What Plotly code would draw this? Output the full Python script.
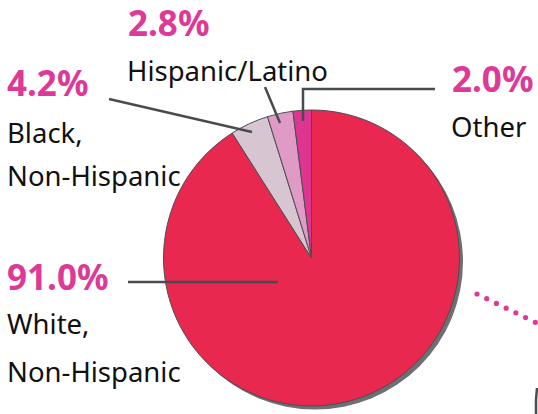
import plotly.graph_objects as go

W, H = 538, 414

# Data
categories = ["White, Non-Hispanic", "Black, Non-Hispanic", "Hispanic/Latino", "Other"]
values = [91.0, 4.2, 2.8, 2.0]
pct_labels = ["91.0%", "4.2%", "2.8%", "2.0%"]
slice_colors = ["#E8284F", "#D7C5D2", "#DF9BC5", "#DE3592"]

PINK = "#DC3A96"
LINE = "#4A4B50"
FONT = "Noto Sans"

def px(x):
    return x / W

def py(y):
    return (H - y) / H

cx, cy, r = 311.5, 258.0, 148.0

fig = go.Figure()
fig.add_trace(go.Pie(
    labels=categories,
    values=values,
    sort=False,
    direction="clockwise",
    rotation=0,
    textinfo="none",
    hoverinfo="skip",
    showlegend=False,
    marker=dict(colors=slice_colors, line=dict(color="#4D4D52", width=1)),
    domain=dict(x=[px(cx - r), px(cx + r)], y=[py(cy + r), py(cy - r)]),
))

shapes = []
# drop shadow
sd = 3.5
shapes.append(dict(type="circle", xref="paper", yref="paper", layer="below",
                   x0=px(cx - r + sd), x1=px(cx + r + sd),
                   y0=py(cy + r + sd), y1=py(cy - r + sd),
                   fillcolor="#6E6F72", line=dict(width=0)))

def seg(pts):
    path = "M " + " L ".join(f"{px(x)},{py(y)}" for x, y in pts)
    shapes.append(dict(type="path", xref="paper", yref="paper", path=path,
                       line=dict(color=LINE, width=2.5)))

seg([(109, 99), (252, 132)])          # Black
seg([(265, 87), (280, 123)])          # Hispanic
seg([(435, 89), (303, 89), (303, 121)])  # Other
seg([(128, 282), (278, 282)])         # White
seg([(537, 388), (536, 400), (536, 414)])  # partial decoration bottom-right

# dotted decoration
x0d, y0d, x1d, y1d = 477, 294, 545, 327
n = 8
for i in range(n):
    x = x0d + (x1d - x0d) * i / (n - 1)
    y = y0d + (y1d - y0d) * i / (n - 1)
    shapes.append(dict(type="circle", xref="paper", yref="paper",
                       x0=px(x - 2.6), x1=px(x + 2.6), y0=py(y + 2.6), y1=py(y - 2.6),
                       fillcolor=PINK, line=dict(width=0)))

annotations = []

def txt(s, x, y, size, color, bold=False, height=None):
    a = dict(text=f"<b>{s}</b>" if bold else s, x=px(x), y=py(y),
             xref="paper", yref="paper", xanchor="left", yanchor="middle",
             showarrow=False, font=dict(family=FONT, size=size, color=color))
    if height:
        a["height"] = height
    annotations.append(a)

REG = 27.5
txt(pct_labels[2], 126, 22, 35, PINK, True, height=40)
txt("Hispanic/Latino", 125, 70.5, REG, "#111111")
txt(pct_labels[1], 5, 82, 35, PINK, True)
txt("Black,", 5, 132, REG, "#111111")
txt("Non-Hispanic", 5, 175.5, REG, "#111111")
txt(pct_labels[3], 450, 79, 35, PINK, True)
txt("Other", 449, 126.5, REG, "#111111")
txt(pct_labels[0], 5, 276, 35, PINK, True)
txt("White,", 5, 323.5, REG, "#111111")
txt("Non-Hispanic", 5, 371.5, REG, "#111111")

fig.update_layout(width=W, height=H, margin=dict(l=0, r=0, t=0, b=0),
                  paper_bgcolor="white", plot_bgcolor="white",
                  shapes=shapes, annotations=annotations)

fig.write_html("out.html", config={"displayModeBar": False},
               post_script="document.body.style.margin='0';document.body.style.overflow='hidden';")
